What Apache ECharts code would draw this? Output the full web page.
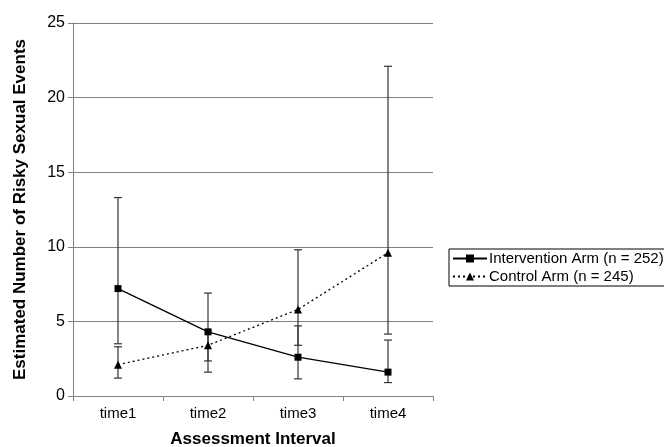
<!DOCTYPE html>
<html>
<head>
<meta charset="utf-8">
<script src="https://cdn.jsdelivr.net/npm/echarts@6/dist/echarts.min.js"></script>
<style>html,body{margin:0;padding:0;background:#fff}#c{width:664px;height:447px}</style>
</head>
<body>
<div id="c"></div>
<script>
var categories = ['time1', 'time2', 'time3', 'time4'];
var interventionMean = [7.2, 4.3, 2.6, 1.6];
var interventionLower = [3.5, 2.35, 1.15, 0.9];
var interventionUpper = [13.3, 6.9, 4.7, 3.75];
var controlMean = [2.1, 3.4, 5.8, 9.6];
var controlLower = [1.2, 1.6, 3.4, 4.15];
var controlUpper = [3.3, 4.4, 9.8, 22.1];
var yTicks = [0, 5, 10, 15, 20, 25];

var chart = echarts.init(document.getElementById('c'), null, {renderer: 'canvas'});
var FONT = 'Liberation Sans, Arial, sans-serif';

function errData(lo, hi) {
  return categories.map(function (c, i) { return [i, lo[i], hi[i]]; });
}
function errRender(params, api) {
  var x = api.value(0);
  var lo = api.coord([x, api.value(1)]);
  var hi = api.coord([x, api.value(2)]);
  var hw = 4;
  var st = {stroke: '#333', lineWidth: 1.2};
  return {
    type: 'group',
    children: [
      {type: 'line', shape: {x1: lo[0], y1: lo[1], x2: hi[0], y2: hi[1]}, style: st},
      {type: 'line', shape: {x1: lo[0] - hw, y1: lo[1], x2: lo[0] + hw, y2: lo[1]}, style: st},
      {type: 'line', shape: {x1: hi[0] - hw, y1: hi[1], x2: hi[0] + hw, y2: hi[1]}, style: st}
    ]
  };
}

chart.setOption({
  animation: false,
  backgroundColor: '#fff',
  grid: {left: 73, right: 231, top: 23, bottom: 51, containLabel: false, outerBoundsMode: 'none'},
  legend: {
    left: 449, top: 249,
    orient: 'vertical',
    borderColor: '#000', borderWidth: 1,
    padding: [2, 4, 2, 3],
    itemGap: 3,
    itemWidth: 34, itemHeight: 10,
    textStyle: {fontFamily: FONT, fontSize: 15, color: '#000', padding: [0, 0, 0, -3]},
    data: ['Intervention Arm (n = 252)', 'Control Arm (n = 245)']
  },
  xAxis: {
    type: 'category',
    data: categories,
    boundaryGap: true,
    name: 'Assessment Interval',
    nameLocation: 'middle',
    nameGap: 35,
    nameTextStyle: {fontFamily: FONT, fontSize: 17, fontWeight: 'bold', color: '#000'},
    axisLine: {lineStyle: {color: '#808080', width: 1}},
    axisTick: {show: true, length: 5, lineStyle: {color: '#808080'}, interval: 0},
    axisLabel: {fontFamily: FONT, fontSize: 15, color: '#000', margin: 10}
  },
  yAxis: {
    type: 'value',
    min: 0, max: 25, interval: 5,
    name: 'Estimated Number of Risky Sexual Events',
    nameLocation: 'middle',
    nameGap: 44,
    nameTextStyle: {fontFamily: FONT, fontSize: 17, fontWeight: 'bold', color: '#000'},
    axisLine: {show: true, lineStyle: {color: '#808080', width: 1}},
    axisTick: {show: true, length: 5, lineStyle: {color: '#808080'}},
    axisLabel: {fontFamily: FONT, fontSize: 16, color: '#000', margin: 8,
      formatter: function (v) { return yTicks.indexOf(v) >= 0 ? String(v) : ''; }},
    splitLine: {show: true, lineStyle: {color: '#808080', width: 1}}
  },
  series: [
    {type: 'custom', name: 'errI', renderItem: errRender, data: errData(interventionLower, interventionUpper), z: 1, silent: true},
    {type: 'custom', name: 'errC', renderItem: errRender, data: errData(controlLower, controlUpper), z: 1, silent: true},
    {
      type: 'line', name: 'Intervention Arm (n = 252)', data: interventionMean,
      symbol: 'rect', symbolSize: 7,
      lineStyle: {color: '#000', width: 1.3, type: 'solid'},
      itemStyle: {color: '#000'}, z: 3
    },
    {
      type: 'line', name: 'Control Arm (n = 245)', data: controlMean,
      symbol: 'triangle', symbolSize: 8,
      lineStyle: {color: '#000', width: 1.3, type: [2, 3]},
      itemStyle: {color: '#000'}, z: 3
    }
  ]
});
</script>
</body>
</html>
